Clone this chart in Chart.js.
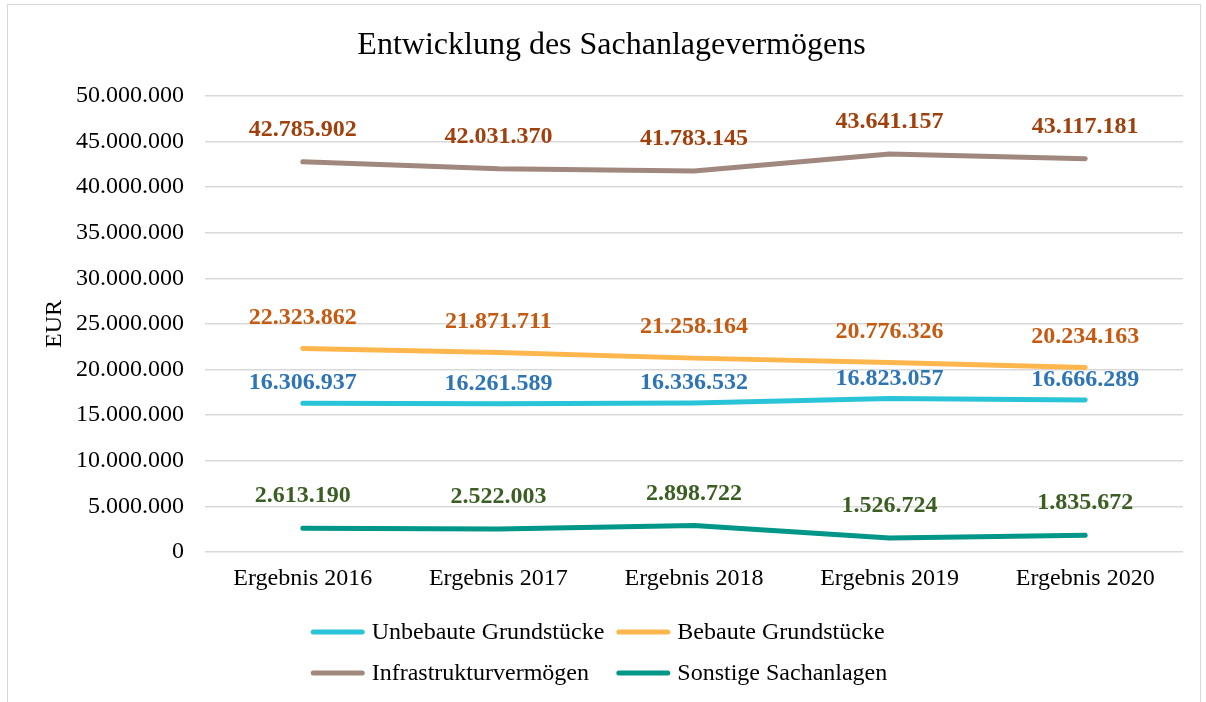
<!DOCTYPE html>
<html>
<head>
<meta charset="utf-8">
<script src="https://cdn.jsdelivr.net/npm/chart.js@4.4.1/dist/chart.umd.min.js"></script>
<style>
    body { margin: 0; background: #ffffff; }
    #frame {
        position: absolute; left: 7px; top: 4px;
        width: 1192px; height: 710px;
        border: 1px solid #d9d9d9;
    }
    #wrap { position: absolute; left: 0; top: 0; width: 1206px; height: 702px; }
</style>
</head>
<body>
<div id="frame"></div>
<div id="wrap"><canvas id="chart"></canvas></div>
<script>
const years = ["Ergebnis 2016", "Ergebnis 2017", "Ergebnis 2018", "Ergebnis 2019", "Ergebnis 2020"];

const seriesNames = [
    "Unbebaute Grundstücke",
    "Bebaute Grundstücke",
    "Infrastrukturvermögen",
    "Sonstige Sachanlagen"
];

const unbebaute = [16306937, 16261589, 16336532, 16823057, 16666289];
const bebaute = [22323862, 21871711, 21258164, 20776326, 20234163];
const infrastruktur = [42785902, 42031370, 41783145, 43641157, 43117181];
const sonstige = [2613190, 2522003, 2898722, 1526724, 1835672];

const yMin = 0;
const yMax = 50000000;
const yStep = 5000000;

const serif = "'Liberation Serif', 'Times New Roman', serif";

function fmt(v)
{
    return String(Math.round(v)).replace(/\B(?=(\d{3})+(?!\d))/g, ".");
}

// data labels above each point
const valueLabels = {
    id: "valueLabels",
    afterDatasetsDraw(chart)
    {
        const ctx = chart.ctx;
        ctx.save();
        ctx.font = "bold 24px " + serif;
        ctx.textAlign = "center";
        ctx.textBaseline = "middle";
        chart.data.datasets.forEach((ds, i) =>
        {
            const meta = chart.getDatasetMeta(i);
            ctx.fillStyle = ds.labelColor;
            meta.data.forEach((pt, j) =>
            {
                ctx.fillText(fmt(ds.data[j]), pt.x, pt.y - ds.labelOffset);
            });
        });
        ctx.restore();
    }
};

// two-column legend under the axis
const gridLegend = {
    id: "gridLegend",
    afterDraw(chart)
    {
        const ctx = chart.ctx;
        const sets = chart.data.datasets;
        const lineLen = 54;
        const textGap = 7;
        const colGap = 12;
        const rows = [632, 673];

        ctx.save();
        ctx.font = "24px " + serif;

        const itemW = sets.map(ds => lineLen + textGap + ctx.measureText(ds.label).width);
        const col1 = Math.max(itemW[0], itemW[2]);
        const col2 = Math.max(itemW[1], itemW[3]);
        const total = col1 + colGap + col2;
        const left = chart.width / 2 - total / 2 - 4;

        sets.forEach((ds, i) =>
        {
            const x = (i % 2 === 0) ? left : left + col1 + colGap;
            const y = rows[Math.floor(i / 2)];

            ctx.strokeStyle = ds.borderColor;
            ctx.lineWidth = 5;
            ctx.lineCap = "round";
            ctx.beginPath();
            ctx.moveTo(x + 2.5, y);
            ctx.lineTo(x + lineLen - 2.5, y);
            ctx.stroke();

            ctx.fillStyle = "#000000";
            ctx.textAlign = "left";
            ctx.textBaseline = "middle";
            ctx.fillText(ds.label, x + lineLen + textGap, y + 1);
        });
        ctx.restore();
    }
};

const ctx = document.getElementById("chart").getContext("2d");

new Chart(ctx, {
    type: "line",
    data: {
        labels: years,
        datasets: [
            {
                label: seriesNames[0],
                data: unbebaute,
                borderColor: "#29c4d8",
                backgroundColor: "#29c4d8",
                labelColor: "#2e75b6",
                labelOffset: 20
            },
            {
                label: seriesNames[1],
                data: bebaute,
                borderColor: "#ffb74d",
                backgroundColor: "#ffb74d",
                labelColor: "#c55a11",
                labelOffset: 31
            },
            {
                label: seriesNames[2],
                data: infrastruktur,
                borderColor: "#a1887f",
                backgroundColor: "#a1887f",
                labelColor: "#a0410d",
                labelOffset: 32
            },
            {
                label: seriesNames[3],
                data: sonstige,
                borderColor: "#009688",
                backgroundColor: "#009688",
                labelColor: "#3b5e22",
                labelOffset: 32
            }
        ]
    },
    options: {
        responsive: true,
        maintainAspectRatio: false,
        animation: false,
        layout: {
            padding: { left: 40, right: 23, top: 0, bottom: 109 }
        },
        elements: {
            line: {
                borderWidth: 5,
                borderCapStyle: "round",
                borderJoinStyle: "round",
                tension: 0
            },
            point: { radius: 0, hoverRadius: 0 }
        },
        plugins: {
            legend: { display: false },
            tooltip: { enabled: false },
            title: {
                display: true,
                text: "Entwicklung des Sachanlagevermögens",
                color: "#000000",
                font: { family: serif, size: 32, weight: "normal", lineHeight: 1.2 },
                padding: { top: 26, bottom: 31.6 }
            }
        },
        scales: {
            x: {
                offset: true,
                grid: { display: false, drawTicks: false },
                border: { display: false },
                ticks: {
                    color: "#000000",
                    padding: 12.6,
                    maxRotation: 0,
                    font: { family: serif, size: 24 }
                },
                afterFit(scale) { scale.height = 41; }
            },
            y: {
                min: yMin,
                max: yMax,
                grid: { color: "#d9d9d9", lineWidth: 1.5, drawTicks: false },
                border: { display: false },
                ticks: {
                    stepSize: yStep,
                    color: "#000000",
                    padding: 21,
                    font: { family: serif, size: 24 },
                    callback: v => fmt(v)
                },
                title: {
                    display: true,
                    text: "EUR",
                    color: "#000000",
                    font: { family: serif, size: 24 },
                    padding: { top: 0, bottom: 0 }
                },
                afterFit(scale) { scale.width = 165; }
            }
        }
    },
    plugins: [valueLabels, gridLegend]
});
</script>
</body>
</html>
